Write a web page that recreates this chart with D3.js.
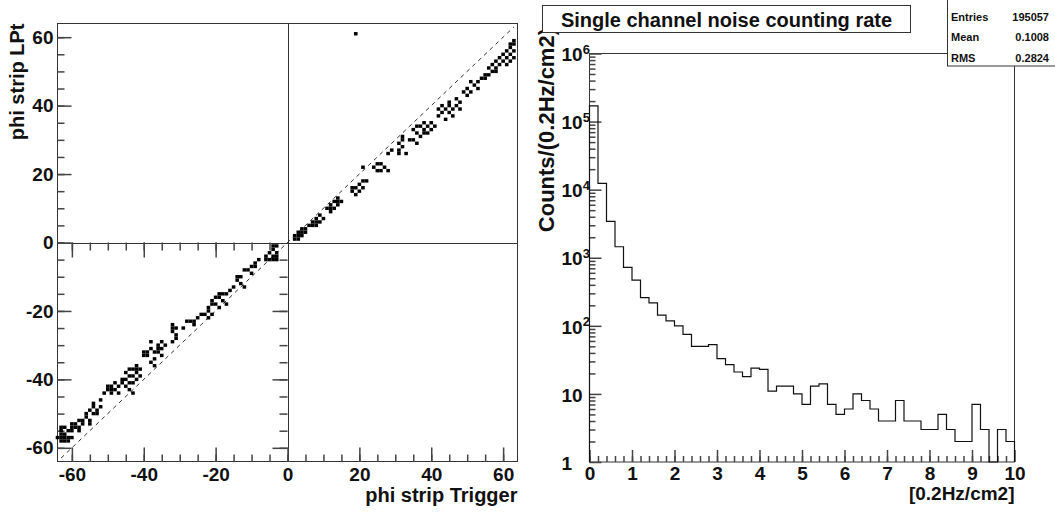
<!DOCTYPE html>
<html>
<head>
<meta charset="utf-8">
<script src="https://cdn.jsdelivr.net/npm/d3@7"></script>
<style>
  body { margin: 0; background: #fff; }
  svg { display: block; font-family: "Liberation Sans", Arial, sans-serif; font-weight: bold; }
</style>
</head>
<body>
<svg id="chart" width="1055" height="512"></svg>
<script>
// left pad: phi strip LPt vs phi strip Trigger (one [x, y] per hit)
const lowerLeftHits = [
  [-63,-55],[-63,-56],[-63,-57],[-63,-58],[-62,-56],[-62,-57],[-62,-58],[-61,-57],[-61,-55],[-62,-54],[-60,-57],[-60,-55],[-63,-54],[-64,-57],[-61,-58],
  [-60,-53],[-59,-53],[-59,-54],[-58,-52],[-58,-54],[-57,-52],[-57,-53],[-56,-51],[-56,-50],[-55,-52],[-55,-53],[-58,-55],[-60,-54],
  [-54,-47],[-54,-48],[-53,-49],[-53,-50],[-52,-48],[-54,-50],[-55,-49],[-52,-46],
  [-51,-44],[-50,-42],[-50,-43],[-49,-44],[-49,-42],[-48,-43],[-48,-41],[-47,-42],[-47,-44],[-46,-40],[-49,-43],
  [-45,-38],[-45,-40],[-44,-39],[-44,-41],[-44,-43],[-43,-37],[-43,-39],[-42,-36],[-42,-38],[-42,-40],[-41,-37],[-41,-39],[-43,-44],[-45,-42],[-44,-37],[-43,-41],[-42,-37],[-46,-41],
  [-40,-32],[-40,-33],[-39,-33],[-38,-31],[-38,-35],[-37,-32],[-37,-34],[-36,-30],[-36,-32],[-35,-29],[-35,-31],[-34,-30],[-37,-36],[-35,-33],[-38,-29],[-39,-32],[-36,-31],
  [-32,-24],[-32,-25],[-32,-26],[-31,-27],[-31,-28],[-32,-29],[-31,-25],
  [-29,-25],[-28,-23],[-27,-23],[-26,-23],[-25,-22],[-24,-21],[-23,-21],[-22,-22],[-26,-24],
  [-22,-20],[-21,-18],[-21,-17],[-20,-16],[-20,-18],[-19,-16],[-18,-15],[-18,-17],[-17,-15],[-17,-18],[-16,-14],[-19,-19],[-22,-19],[-21,-21],[-19,-15],
  [-14,-10],[-13,-10],[-13,-12],[-12,-8],[-11,-8],[-10,-7],[-9,-6],[-8,-5],[-10,-9],[-12,-13],[-15,-13],[-14,-11],[-9,-7],
  [-6,-4],[-5,-3],[-4,-2],[-4,-4],[-3,-3],[-3,-1],[-4,-5],[-5,-5],[-3,-4],[-6,-5],[-4,-1],[-3,-5]
];
const upperRightHits = [
  [2,2],[3,2],[3,3],[4,2],[4,3],[5,3],[2,1],[5,4],[3,1],[4,4],
  [6,5],[7,6],[8,7],[8,5],[9,8],[9,6],[7,5],[10,7],[8,6],
  [11,10],[12,11],[12,9],[13,12],[14,13],[14,11],[15,12],[13,10],[12,10],[14,12],
  [18,15],[19,16],[20,17],[21,18],[21,16],[22,18],[19,14],[18,16],[20,15],
  [21,22],[24,22],[25,21],[26,23],[27,22],[28,21],[25,23],[26,21],
  [28,26],[29,27],
  [31,29],[31,27],[32,30],[32,28],[33,26],[32,31],[31,26],
  [34,30],[35,30],[35,33],[36,32],[36,34],[37,31],[38,33],[38,35],[39,32],[39,34],[40,33],[40,35],[41,34],[37,34],[36,29],[38,32],
  [42,37],[43,38],[44,36],[44,39],[45,38],[45,40],[46,37],[46,39],[47,40],[48,41],[48,39],[43,40],[42,39],[47,42],[45,41],
  [49,44],[50,45],[51,44],[52,46],[53,45],[53,47],[54,48],[51,47],[50,43],
  [55,49],[56,51],[56,49],[57,50],[57,52],[58,53],[58,51],[59,52],[59,54],[60,53],[60,55],[61,54],[55,48],[58,50],
  [61,56],[62,55],[62,57],[63,54],[63,56],[63,58],[62,53],[63,59],[62,58],[61,52],
  [19,61]
];
const stripMajorTicks = [-60, -40, -20, 0, 20, 40, 60];

// right pad: noise rate histogram, 50 bins of 0.2 from 0 to 10
const binWidth = 0.2;
const noiseCounts = [
  170000, 12400, 3430, 1450, 720, 470, 260, 218, 144, 118,
  100, 75, 50, 50, 53, 33, 27, 21, 18, 24,
  23, 11, 13, 13, 10, 7, 13, 14, 7, 5,
  6, 10, 8, 6, 4, 4, 8, 4, 4, 3,
  3, 5, 3, 2, 2, 7, 3, 0, 3, 2
];
const rateTicks = [0, 1, 2, 3, 4, 5, 6, 7, 8, 9, 10];
const countDecades = [1, 10, 100, 1e3, 1e4, 1e5, 1e6];
const statsRows = [["Entries", "195057"], ["Mean", "0.1008"], ["RMS", "0.2824"]];
const histTitle = "Single channel noise counting rate";

const svg = d3.select("#chart");
const ink = "#111";
const frameInk = "#333";
const tickInk = "#444";

// tick marks drawn by d3.axis, labels removed; ticks point into the frame
function tickAxis(axisFn, scale, values, len, transform) {
  svg.append("g").attr("transform", transform)
    .call(axisFn(scale).tickValues(values).tickSizeInner(-len).tickSizeOuter(0).tickFormat(""))
    .call(g => {
      g.select(".domain").remove();
      g.selectAll(".tick text").remove();
      g.selectAll(".tick line").attr("stroke", tickInk).attr("stroke-width", 1.5);
    });
}

function labelAxis(g, size) {
  g.select(".domain").remove();
  g.selectAll(".tick line").remove();
  g.selectAll(".tick text").attr("fill", ink).attr("font-size", size)
    .attr("font-family", "Liberation Sans, Arial, sans-serif").attr("font-weight", "bold");
}

/* ---------- left pad ---------- */
const xL = d3.scaleLinear().domain([-64, 64]).range([57.5, 517.5]);
const yL = d3.scaleLinear().domain([-64, 64]).range([461.5, 23.5]);
const minorStrip = d3.range(-60, 61, 5);

svg.append("rect")
  .attr("x", xL(-64)).attr("y", yL(64))
  .attr("width", xL(64) - xL(-64)).attr("height", yL(-64) - yL(64))
  .attr("fill", "none").attr("stroke", frameInk);

// quadrant lines
svg.append("line").attr("x1", Math.round(xL(0)) + 0.5).attr("x2", Math.round(xL(0)) + 0.5)
  .attr("y1", yL(64)).attr("y2", yL(-64)).attr("stroke", frameInk);
svg.append("line").attr("x1", xL(-64)).attr("x2", xL(64))
  .attr("y1", Math.round(yL(0)) + 0.5).attr("y2", Math.round(yL(0)) + 0.5).attr("stroke", frameInk);

// outer axes, ticks pointing inwards
tickAxis(d3.axisLeft, yL, minorStrip, 7, `translate(${xL(-64)},0)`);
tickAxis(d3.axisLeft, yL, stripMajorTicks, 14, `translate(${xL(-64)},0)`);
tickAxis(d3.axisBottom, xL, minorStrip, 7, `translate(0,${yL(-64)})`);
tickAxis(d3.axisBottom, xL, stripMajorTicks, 14, `translate(0,${yL(-64)})`);
svg.append("g").attr("transform", `translate(${xL(-64)},0)`)
  .call(d3.axisLeft(yL).tickValues(stripMajorTicks).tickSize(0).tickPadding(4).tickFormat(d => String(d)))
  .call(g => labelAxis(g, 19));
svg.append("g").attr("transform", `translate(0,${yL(-64)})`)
  .call(d3.axisBottom(xL).tickValues(stripMajorTicks).tickSize(0).tickPadding(6).tickFormat(d => String(d)))
  .call(g => labelAxis(g, 19));

// ticks of the lower-left quadrant on the centre lines
const negMinor = minorStrip.filter(d => d < 0);
const negMajor = stripMajorTicks.filter(d => d < 0);
tickAxis(d3.axisTop, xL, negMinor, 8, `translate(0,${yL(0)})`);
tickAxis(d3.axisTop, xL, negMajor, 15, `translate(0,${yL(0)})`);
tickAxis(d3.axisRight, yL, negMinor, 8, `translate(${xL(0)},0)`);
tickAxis(d3.axisRight, yL, negMajor, 15, `translate(${xL(0)},0)`);

// y = x reference
svg.append("line")
  .attr("x1", xL(-63)).attr("y1", yL(-63)).attr("x2", xL(63)).attr("y2", yL(63))
  .attr("stroke", "#333").attr("stroke-dasharray", "4,4");

svg.append("g").selectAll("rect")
  .data(lowerLeftHits.concat(upperRightHits))
  .join("rect")
  .attr("x", d => xL(d[0]) - 1.8).attr("y", d => yL(d[1]) - 1.7)
  .attr("width", 3.6).attr("height", 3.4)
  .attr("fill", "#000");

svg.append("text").attr("x", xL(64)).attr("y", 502)
  .attr("text-anchor", "end").attr("font-size", 20).attr("fill", ink)
  .text("phi strip Trigger");
svg.append("text").attr("transform", `translate(24,${yL(64)}) rotate(-90)`)
  .attr("text-anchor", "end").attr("font-size", 20).attr("fill", ink)
  .text("phi strip LPt");

/* ---------- right pad ---------- */
const xR = d3.scaleLinear().domain([0, 10]).range([589.5, 1014.5]);
const yR = d3.scaleLog().domain([1, 1e6]).range([462, 53.5]);

svg.append("rect")
  .attr("x", xR(0)).attr("y", yR(1e6))
  .attr("width", xR(10) - xR(0)).attr("height", yR(1) - yR(1e6))
  .attr("fill", "none").attr("stroke", frameInk);

const logMinor = [];
countDecades.slice(0, -1).forEach(dec => { for (let m = 2; m <= 9; m++) logMinor.push(dec * m); });
tickAxis(d3.axisLeft, yR, logMinor, 6, `translate(${xR(0)},0)`);
tickAxis(d3.axisLeft, yR, countDecades, 12, `translate(${xR(0)},0)`);
const gY = svg.append("g").attr("transform", `translate(${xR(0)},0)`)
  .call(d3.axisLeft(yR).tickValues(countDecades).tickSize(0).tickPadding(28))
  .call(g => labelAxis(g, 19));
gY.selectAll(".tick text").attr("text-anchor", "start").attr("dy", "0.38em").each(function (d) {
  const t = d3.select(this).text(null);
  const e = Math.round(Math.log10(d));
  if (e <= 1) { t.text(String(d)); return; }
  t.append("tspan").text("10");
  t.append("tspan").attr("dy", "-0.55em").attr("font-size", 13).text(e);
});

const rateMinor = d3.range(0, 50).map(i => i * binWidth);
tickAxis(d3.axisBottom, xR, rateMinor, 6, `translate(0,${yR(1)})`);
tickAxis(d3.axisBottom, xR, rateTicks, 12, `translate(0,${yR(1)})`);
svg.append("g").attr("transform", `translate(0,${yR(1)})`)
  .call(d3.axisBottom(xR).tickValues(rateTicks).tickSize(0).tickPadding(5).tickFormat(d => String(d)))
  .call(g => labelAxis(g, 19));

// step outline of the histogram; empty bins fall to the bottom of the frame
const stepPts = [[0, 1]];
noiseCounts.forEach((c, i) => {
  const v = c > 0 ? c : 1;
  stepPts.push([i * binWidth, v], [(i + 1) * binWidth, v]);
});
stepPts.push([10, 1]);
svg.append("path")
  .attr("d", d3.line().x(d => xR(d[0])).y(d => yR(d[1]))(stepPts))
  .attr("fill", "none").attr("stroke", "#111").attr("stroke-width", 1.2);

svg.append("text").attr("x", xR(10)).attr("y", 500)
  .attr("text-anchor", "end").attr("font-size", 19).attr("fill", ink)
  .text("[0.2Hz/cm2]");
svg.append("text").attr("transform", "translate(554,28) rotate(-90)")
  .attr("text-anchor", "end").attr("font-size", 22).attr("fill", ink)
  .text("Counts/(0.2Hz/cm2)");

// title box
svg.append("rect").attr("x", 542.5).attr("y", 5.5).attr("width", 368).attr("height", 27)
  .attr("fill", "#fff").attr("stroke", frameInk);
svg.append("text").attr("x", 726.5).attr("y", 26.5)
  .attr("text-anchor", "middle").attr("font-size", 20).attr("fill", ink)
  .text(histTitle);

// stats box
svg.append("rect").attr("x", 947.5).attr("y", -2).attr("width", 120).attr("height", 68)
  .attr("fill", "#fff").attr("stroke", frameInk);
const statRowY = d3.scalePoint().domain(statsRows.map(r => r[0])).range([20.5, 61.5]);
const statG = svg.append("g").attr("font-size", 11).attr("fill", ink);
statG.selectAll("text.k").data(statsRows).join("text").attr("class", "k")
  .attr("x", 951).attr("y", d => statRowY(d[0])).text(d => d[0]);
statG.selectAll("text.v").data(statsRows).join("text").attr("class", "v")
  .attr("x", 1049).attr("y", d => statRowY(d[0])).attr("text-anchor", "end").text(d => d[1]);
</script>
</body>
</html>
